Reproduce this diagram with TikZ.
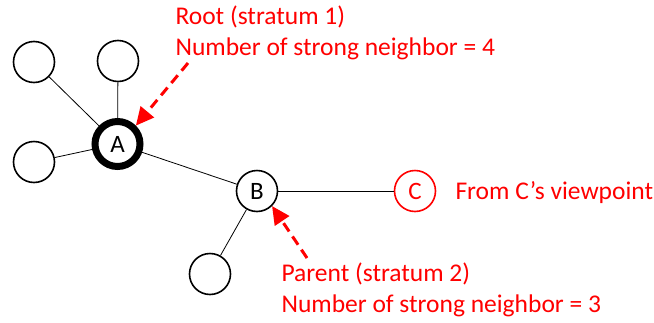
\documentclass[tikz,border=0pt]{standalone}
\usepackage{fontspec}
\setmainfont{Carlito}
\usetikzlibrary{arrows.meta,positioning}
\tikzset{
  vertex/.style={circle,draw,line width=1.6pt,minimum size=41pt,inner sep=0pt,font=\fontsize{25}{25}\selectfont},
  note/.style={text=red,align=left,anchor=base west,font=\fontsize{25.5}{31}\selectfont},
  hint/.style={red,line width=3pt,dash pattern=on 10pt off 6pt,-{Triangle[length=18pt,width=17pt]}}
}
\begin{document}
\begin{tikzpicture}[x=1pt,y=-1pt]
      \useasboundingbox (0,0) rectangle (654,322);
      % Root and its neighbours
      \node[vertex,line width=7pt,minimum size=45pt] (A) at (117.5,144) {A};
      \node[vertex] (n1) at (34,62) {};
      \node[vertex] (n2) at (118,61) {};
      \node[vertex] (n3) at (34,162) {};
      % Parent
      \node[vertex] (B) at (257,191) {B};
      \node[vertex] (n4) at (210,274) {};
      % Viewpoint node
      \node[vertex,red] (C) at (415,191) {C};
      % Links
      \draw[line width=0.8pt] (n1) -- (A);
      \draw[line width=0.8pt] (n2) -- (A);
      \draw[line width=0.8pt] (n3) -- (A);
      \draw[line width=0.8pt] (A) -- (B);
      \draw[line width=0.8pt] (B) -- (C);
      \draw[line width=0.8pt] (B) -- (n4);
      % Labels (base west sits on the last line)
      \node[note] (root) at (172,55) {Root (stratum 1)\\Number of strong neighbor = 4};
      \node[note] (view) at (452,199) {From C’s viewpoint};
      \node[note] (parent) at (278,312) {Parent (stratum 2)\\Number of strong neighbor = 3};
      % Dashed pointers
      \coordinate (rt) at (188,63);
      \coordinate (pt) at (307,258);
      \draw[hint] (rt) -- (A.45);
      \draw[hint] (pt) -- (B.-45);
\end{tikzpicture}
\end{document}
